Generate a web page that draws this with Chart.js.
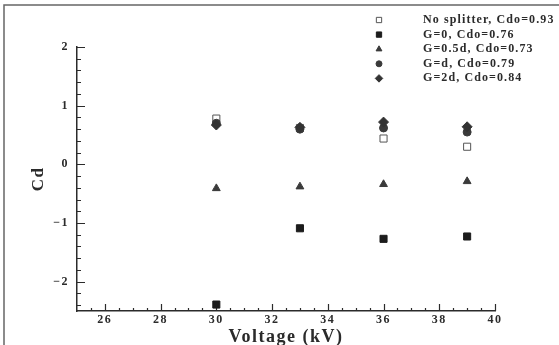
<!DOCTYPE html>
<html>
<head>
<meta charset="utf-8">
<script src="https://cdn.jsdelivr.net/npm/chart.js@4/dist/chart.umd.min.js"></script>
<style>
  html, body { margin: 0; padding: 0; background: #fff; }
  #grafica { display: block; }
</style>
</head>
<body>
<canvas id="grafica" width="559" height="345"></canvas>
<script>
// Datos
const voltajes = [30, 33, 36, 39];
const sinSeparador = [0.78, 0.62, 0.44, 0.30];
const g0 = [-2.39, -1.09, -1.27, -1.23];
const g05d = [-0.41, -0.38, -0.34, -0.29];
const gd = [0.70, 0.60, 0.62, 0.55];
const g2d = [0.67, 0.63, 0.72, 0.64];

const etiquetas = [
  "No splitter, Cdo=0.93",
  "G=0, Cdo=0.76",
  "G=0.5d, Cdo=0.73",
  "G=d, Cdo=0.79",
  "G=2d, Cdo=0.84"
];

const ticksX = [26, 28, 30, 32, 34, 36, 38, 40];
const ticksY = [-2, -1, 0, 1, 2];

const fuente = "'Liberation Serif', 'DejaVu Serif', serif";
const tinta = "#2b2b2b";

function puntos(valores) {
  return voltajes.map((v, i) => ({ x: v, y: valores[i] }));
}

function serie(label, valores, estilo, radio, relleno, orden) {
  return {
    label,
    data: puntos(valores),
    pointStyle: estilo,
    pointRadius: radio,
    pointHoverRadius: radio,
    backgroundColor: relleno,
    borderColor: relleno === "#fff" ? "#555" : relleno,
    borderWidth: 1,
    showLine: false,
    order: orden
  };
}

// Marco gris (arriba e izquierda) y texto algo espaciado
const marco = {
  id: "marco",
  beforeDraw(chart) {
    const ctx = chart.ctx;
    ctx.letterSpacing = "1.5px";
    ctx.save();
    ctx.strokeStyle = "#666";
    ctx.lineWidth = 1.5;
    ctx.beginPath();
    ctx.moveTo(4, 345);
    ctx.lineTo(4, 5);
    ctx.lineTo(559, 5);
    ctx.stroke();
    ctx.restore();
  }
};

// Marcas de los ejes hacia dentro, como en el original
const marcasInternas = {
  id: "marcasInternas",
  beforeDatasetsDraw(chart) {
    const { ctx, scales: { x, y } } = chart;
    ctx.save();
    ctx.strokeStyle = tinta;
    ctx.lineWidth = 1.2;
    ctx.beginPath();
    for (let v = 25.5; v <= 40; v += 0.5) {
      const px = Math.round(x.getPixelForValue(v)) + 0.5;
      const largo = v % 2 === 0 ? 7 : 3;
      ctx.moveTo(px, y.bottom);
      ctx.lineTo(px, y.bottom - largo);
    }
    for (let k = -12; k <= 10; k++) {
      const v = k / 5;
      const py = Math.round(y.getPixelForValue(v)) + 0.5;
      const largo = k % 5 === 0 ? 8 : 4;
      ctx.moveTo(x.left, py);
      ctx.lineTo(x.left + largo, py);
    }
    ctx.stroke();
    ctx.restore();
  }
};

// Leyenda arriba a la derecha
const leyenda = {
  id: "leyenda",
  afterDraw(chart) {
    const ctx = chart.ctx;
    ctx.save();
    ctx.letterSpacing = "1.1px";
    ctx.font = "bold 12px " + fuente;
    ctx.textBaseline = "middle";
    chart.data.datasets.forEach((ds, i) => {
      const yy = 20 + i * 14.6;
      ctx.fillStyle = ds.backgroundColor;
      ctx.strokeStyle = ds.borderColor;
      ctx.lineWidth = 1;
      Chart.helpers.drawPoint(ctx, {
        pointStyle: ds.pointStyle,
        radius: ds.pointRadius * 0.75,
        rotation: 0,
        borderWidth: 1
      }, 379, yy);
      ctx.fillStyle = tinta;
      ctx.fillText(ds.label, 423, yy);
    });
    ctx.restore();
  }
};

const ctx = document.getElementById("grafica").getContext("2d");
new Chart(ctx, {
  type: "scatter",
  data: {
    datasets: [
      serie(etiquetas[0], sinSeparador, "rect", 5, "#fff", 5),
      serie(etiquetas[1], g0, "rect", 5, "#1c1c1c", 1),
      serie(etiquetas[2], g05d, "triangle", 4.5, "#3a3a3a", 2),
      serie(etiquetas[3], gd, "circle", 4, "#3a3a3a", 3),
      serie(etiquetas[4], g2d, "rectRot", 5, "#333", 2)
    ]
  },
  options: {
    responsive: false,
    animation: false,
    layout: { padding: { left: 0, top: 47, right: 64, bottom: 0 } },
    plugins: {
      legend: { display: false },
      tooltip: { enabled: false }
    },
    scales: {
      x: {
        type: "linear",
        min: 25,
        max: 40,
        afterBuildTicks: s => { s.ticks = ticksX.map(v => ({ value: v })); },
        afterFit: s => { s.height = 34; },
        grid: { display: true, drawOnChartArea: false, drawTicks: false },
        border: { display: true, color: tinta, width: 1.5 },
        ticks: { color: tinta, padding: 2, font: { family: fuente, weight: "bold", size: 12 } },
        title: {
          display: true,
          text: "Voltage (kV)",
          color: tinta,
          padding: { top: 0, bottom: -1 },
          font: { family: fuente, weight: "bold", size: 18, lineHeight: 1 }
        }
      },
      y: {
        type: "linear",
        min: -2.5,
        max: 2,
        afterBuildTicks: s => { s.ticks = ticksY.map(v => ({ value: v })); },
        afterFit: s => { s.width = 77; },
        grid: { display: true, drawOnChartArea: false, drawTicks: false },
        border: { display: true, color: tinta, width: 1.5 },
        ticks: {
          color: tinta,
          padding: 8,
          font: { family: fuente, weight: "bold", size: 12 },
          callback: v => v < 0 ? "\u2212" + Math.abs(v) : String(v)
        },
        title: {
          display: true,
          text: "Cd",
          color: tinta,
          padding: { top: 30, bottom: 0 },
          font: { family: fuente, weight: "bold", size: 17, lineHeight: 1 }
        }
      }
    }
  },
  plugins: [marco, marcasInternas, leyenda]
});
</script>
</body>
</html>
